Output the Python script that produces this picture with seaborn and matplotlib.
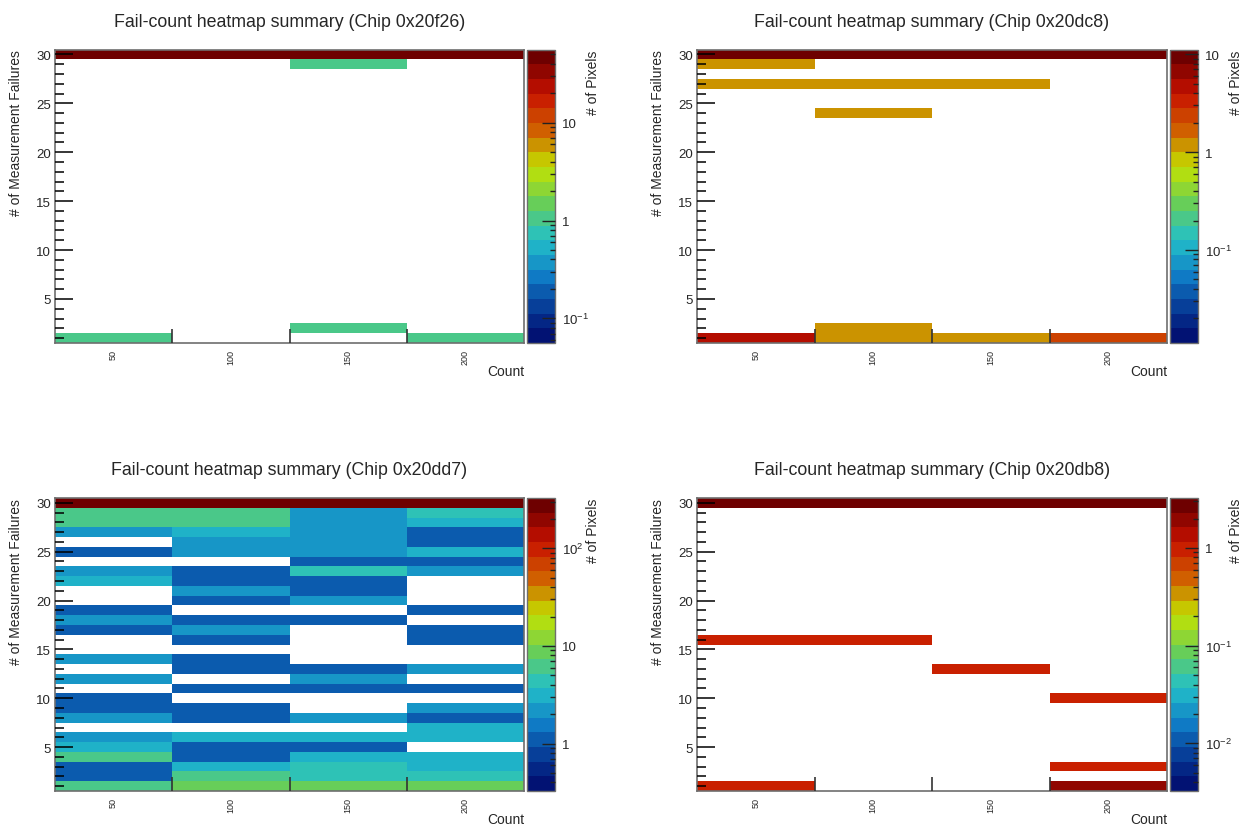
import numpy as np
import pandas as pd
import matplotlib
matplotlib.use("Agg")
import matplotlib.pyplot as plt
import seaborn as sns
from matplotlib.colors import LogNorm, ListedColormap, LinearSegmentedColormap
from matplotlib.ticker import LogLocator, FuncFormatter, NullFormatter, FixedLocator

# ---------------------------------------------------------------- data
count_bins = [50, 100, 150, 200]
failures = list(range(30, 0, -1))          # top row first
chips = ["0x20f26", "0x20dc8", "0x20dd7", "0x20db8"]
z_max = [56.0, 11.2, 327.0, 3.25]          # upper end of each colour scale

# sparse chips: {failures: [pixels per count bin]}
chip_20f26 = {30: [50, 50, 50, 50], 29: [0, 0, 1, 0], 2: [0, 0, 1, 0],
              1: [1, 0, 0, 1]}
chip_20dc8 = {30: [10, 10, 10, 10], 29: [1, 0, 0, 0], 27: [1, 1, 1, 0],
              24: [0, 1, 0, 0], 2: [0, 1, 0, 0], 1: [5, 1, 1, 2]}
chip_20db8 = {30: [3, 3, 3, 3], 16: [1, 1, 0, 0], 13: [0, 0, 1, 0],
              10: [0, 0, 0, 1], 3: [0, 0, 0, 1], 1: [1, 0, 0, 2]}
# dense chip, rows from 30 failures down to 1
chip_20dd7 = [
    [300, 310, 295, 305],
    [6, 6, 2, 4],
    [6, 6, 2, 3],
    [2, 3, 2, 1],
    [0, 2, 2, 1],
    [1, 2, 2, 3],
    [0, 0, 1, 1],
    [2, 1, 4, 2],
    [3, 1, 1, 0],
    [0, 2, 1, 0],
    [0, 1, 2, 0],
    [1, 0, 0, 1],
    [2, 1, 1, 0],
    [1, 2, 0, 1],
    [0, 1, 0, 1],
    [0, 0, 0, 0],
    [2, 1, 0, 0],
    [0, 1, 1, 2],
    [2, 0, 2, 0],
    [0, 1, 1, 1],
    [1, 0, 0, 0],
    [1, 1, 0, 2],
    [2, 1, 2, 1],
    [0, 0, 0, 3],
    [2, 3, 3, 3],
    [3, 1, 1, 0],
    [6, 1, 3, 3],
    [1, 3, 4, 3],
    [1, 6, 4, 4],
    [6, 8, 8, 8],
]


def to_frame(entries):
    if isinstance(entries, dict):
        rows = [entries.get(f, [0] * len(count_bins)) for f in failures]
    else:
        rows = entries
    df = pd.DataFrame(rows, index=failures, columns=count_bins, dtype=float)
    return df.where(df > 0)                 # empty bins stay white


tables = [to_frame(chip_20f26), to_frame(chip_20dc8),
          to_frame(chip_20dd7), to_frame(chip_20db8)]

# ---------------------------------------------------------------- palette
# rainbow palette (255 shades) cut into 20 contour levels
stops = [0.0, 0.125, 0.25, 0.375, 0.5, 0.625, 0.75, 0.875, 1.0]
red = [0, 5, 15, 35, 102, 196, 208, 199, 110]
green = [0, 48, 124, 192, 206, 226, 97, 16, 0]
blue = [99, 142, 198, 201, 90, 0, 0, 0, 0]
grad = LinearSegmentedColormap.from_list(
    "rainbow55",
    [(s, (r / 255, g / 255, b / 255)) for s, r, g, b in zip(stops, red, green, blue)])
n_levels = 20
level_colors = [grad(int((i + 0.99) * 255 / n_levels) / 254) for i in range(n_levels)]
cmap = ListedColormap(level_colors)

# ---------------------------------------------------------------- style
sns.set_style("white")
plt.rcParams["font.family"] = ["Liberation Sans", "DejaVu Sans"]
plt.rcParams["mathtext.default"] = "regular"

fig = plt.figure(figsize=(12.44, 8.28), dpi=100)
W, H = 1244.0, 828.0
frames = [(55, 50.5, 524, 344), (697, 50.5, 1167, 344),
          (55, 499, 524, 792), (697, 499, 1167, 792)]
frame_col = "#6e6e6e"


def cbar_fmt(v, _):
    e = int(round(np.log10(v)))
    if e in (0, 1):
        return f"{int(round(v))}"
    return r"$10^{%d}$" % e


for df, chip, zmax, (x0, y0, x1, y1) in zip(tables, chips, z_max, frames):
    ax = fig.add_axes([x0 / W, 1 - y1 / H, (x1 - x0) / W, (y1 - y0) / H])
    cax = fig.add_axes([(x1 + 3) / W, 1 - y1 / H, 28 / W, (y1 - y0) / H])
    sns.heatmap(df, ax=ax, cbar_ax=cax, cmap=cmap,
                norm=LogNorm(vmin=min(1.0, zmax * 1e-3), vmax=zmax),
                linewidths=0, xticklabels=False, yticklabels=False)
    ax.set_axisbelow(False)
    cax.set_axisbelow(False)

    for sp in ax.spines.values():
        sp.set_visible(True)
        sp.set_color(frame_col)
        sp.set_linewidth(1.2)

    # x axis: labels at bin centres, ticks at bin edges
    ax.xaxis.set_major_locator(FixedLocator([i + 0.5 for i in range(len(count_bins))]))
    ax.set_xticklabels([str(c) for c in count_bins], rotation=90, fontsize=6.5)
    ax.xaxis.set_minor_locator(FixedLocator(list(range(1, len(count_bins)))))
    ax.tick_params(axis="x", which="major", length=0, pad=4, bottom=True)
    ax.tick_params(axis="x", which="minor", length=10, width=1.2, direction="in",
                   color="#333333", bottom=True)

    # y axis: failures, major every 5, minor every 1
    pos = {f: i + 0.5 for i, f in enumerate(failures)}
    majors = [f for f in failures if f % 5 == 0]
    ax.yaxis.set_major_locator(FixedLocator([pos[f] for f in majors]))
    ax.set_yticklabels([str(f) for f in majors], fontsize=9.5, rotation=0)
    ax.yaxis.set_minor_locator(FixedLocator([pos[f] for f in failures]))
    ax.tick_params(axis="y", which="major", length=13, width=1.1, direction="in",
                   color="black", pad=3, left=True)
    ax.tick_params(axis="y", which="minor", length=6.5, width=1.1, direction="in",
                   color="black", left=True)

    ax.set_xlabel("Count", fontsize=10, loc="right")
    ax.xaxis.set_label_coords(1.0, -0.072)
    ax.set_ylabel("# of Measurement Failures", fontsize=10, loc="top")
    ax.yaxis.set_label_coords(-0.068, 1.0)
    ax.set_title(f"Fail-count heatmap summary (Chip {chip})", fontsize=12.8, pad=17)

    # colour bar
    cb = ax.collections[0].colorbar
    cb.outline.set_visible(True)
    cb.outline.set_linewidth(1.0)
    cb.outline.set_edgecolor(frame_col)
    cax.yaxis.set_major_locator(LogLocator(base=10, numticks=10))
    cax.yaxis.set_minor_locator(LogLocator(base=10, subs=np.arange(2, 10), numticks=20))
    cax.yaxis.set_major_formatter(FuncFormatter(cbar_fmt))
    cax.yaxis.set_minor_formatter(NullFormatter())
    cax.tick_params(which="major", direction="in", length=9.5, width=1.0,
                    color="#222222", labelsize=9.5, pad=5, right=True)
    cax.tick_params(which="minor", direction="in", length=3.6, width=1.0,
                    color="#222222", right=True)
    cax.set_ylabel("# of Pixels", fontsize=10, loc="top")
    cax.yaxis.set_label_position("right")
    cax.yaxis.set_label_coords(2.12, 1.0)

fig.savefig("out.png", dpi=100, facecolor="white")
